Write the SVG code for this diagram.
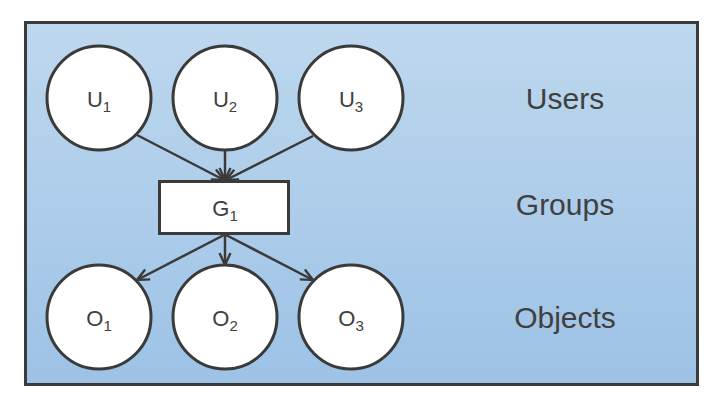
<svg xmlns="http://www.w3.org/2000/svg" width="722" height="408" viewBox="0 0 722 408">
  <defs>
    <linearGradient id="bg" x1="0" y1="0" x2="0" y2="1">
      <stop offset="0" stop-color="#BED8EE"/>
      <stop offset="1" stop-color="#9DC2E6"/>
    </linearGradient>
    <marker id="arr" viewBox="0 0 14 14" refX="13" refY="7" markerWidth="14" markerHeight="14" markerUnits="userSpaceOnUse" orient="auto">
      <path d="M1,1.5 L13,7 L1,12.5" fill="none" stroke="#3a3a3a" stroke-width="2.4"/>
    </marker>
    <style>
      .node { fill: #ffffff; stroke: #3a3a3a; stroke-width: 3; }
      .lbl { font-family: "Liberation Sans", Arial, sans-serif; font-size: 22px; fill: #404040; text-anchor: middle; }
      .sub { font-size: 15px; }
      .cat { font-family: "Liberation Sans", Arial, sans-serif; font-size: 30px; fill: #404040; text-anchor: middle; }
      .edge { stroke: #3a3a3a; stroke-width: 2.5; fill: none; marker-end: url(#arr); }
    </style>
  </defs>
  <rect x="25.5" y="22.5" width="672" height="362" fill="url(#bg)" stroke="#3a3a3a" stroke-width="3"/>

  <g id="connectors">
    <line class="edge" x1="137" y1="135" x2="224" y2="180"/>
    <line class="edge" x1="225" y1="150" x2="225" y2="180"/>
    <line class="edge" x1="313" y1="136" x2="226" y2="180"/>
    <line class="edge" x1="224" y1="235" x2="137" y2="280"/>
    <line class="edge" x1="225" y1="235" x2="225" y2="265"/>
    <line class="edge" x1="226" y1="235" x2="313" y2="280"/>
  </g>

  <g id="U1"><circle class="node" cx="99" cy="98" r="52"/><text class="lbl" x="99" y="107">U<tspan class="sub" dy="5">1</tspan></text></g>
  <g id="U2"><circle class="node" cx="225" cy="98" r="52"/><text class="lbl" x="225" y="107">U<tspan class="sub" dy="5">2</tspan></text></g>
  <g id="U3"><circle class="node" cx="351" cy="98" r="52"/><text class="lbl" x="351" y="107">U<tspan class="sub" dy="5">3</tspan></text></g>

  <g id="G1"><rect class="node" x="159.5" y="181.5" width="129" height="52"/><text class="lbl" x="225" y="216">G<tspan class="sub" dy="5">1</tspan></text></g>

  <g id="O1"><circle class="node" cx="99" cy="317" r="52"/><text class="lbl" x="99" y="326">O<tspan class="sub" dy="5">1</tspan></text></g>
  <g id="O2"><circle class="node" cx="225" cy="317" r="52"/><text class="lbl" x="225" y="326">O<tspan class="sub" dy="5">2</tspan></text></g>
  <g id="O3"><circle class="node" cx="351" cy="317" r="52"/><text class="lbl" x="351" y="326">O<tspan class="sub" dy="5">3</tspan></text></g>

  <g id="labels">
    <text class="cat" x="565" y="109">Users</text>
    <text class="cat" x="565" y="215">Groups</text>
    <text class="cat" x="565" y="328">Objects</text>
  </g>
</svg>
